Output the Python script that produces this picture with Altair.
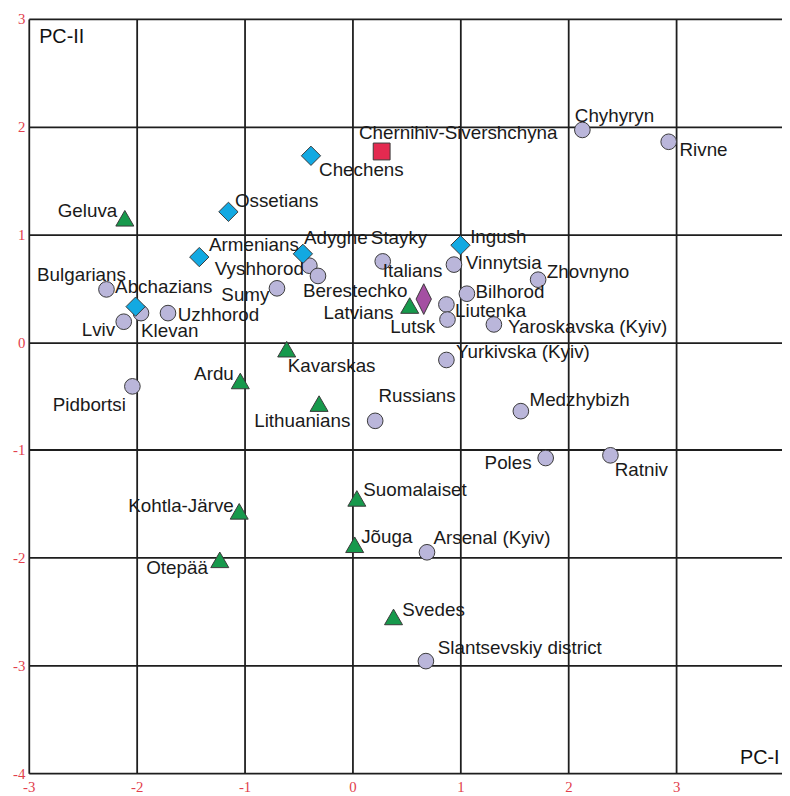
import altair as alt
import pandas as pd

# ---- data ----
names = [
    "Chyhyryn", "Rivne", "Stayky", "Vinnytsia", "Zhovnyno", "Bilhorod", "Liutenka",
    "Lutsk", "Yaroskavska (Kyiv)", "Yurkivska (Kyiv)", "Medzhybizh", "Poles", "Ratniv",
    "Arsenal (Kyiv)", "Slantsevskiy district", "Russians", "Pidbortsi", "Vyshhorod",
    "Berestechko", "Sumy", "Bulgarians", "Klevan", "Uzhhorod", "Lviv",
    "Chechens", "Ossetians", "Armenians", "Adyghe", "Abchazians", "Ingush",
    "Geluva", "Latvians", "Kavarskas", "Ardu", "Lithuanians", "Kohtla-Järve",
    "Otepää", "Suomalaiset", "Jõuga", "Svedes",
    "Chernihiv-Sivershchyna", "Italians",
]
pc1 = [
    2.13, 2.93, 0.28, 0.94, 1.72, 1.06, 0.87,
    0.88, 1.31, 0.87, 1.56, 1.79, 2.39,
    0.69, 0.68, 0.21, -2.04, -0.40,
    -0.32, -0.70, -2.28, -1.96, -1.71, -2.12,
    -0.385, -1.15, -1.42, -0.46, -2.01, 1.00,
    -2.11, 0.53, -0.61, -1.04, -0.31, -1.05,
    -1.23, 0.04, 0.02, 0.38,
    0.27, 0.66,
]
pc2 = [
    1.97, 1.86, 0.75, 0.72, 0.58, 0.45, 0.35,
    0.21, 0.165, -0.165, -0.64, -1.075, -1.05,
    -1.95, -2.96, -0.73, -0.41, 0.71,
    0.615, 0.50, 0.49, 0.27, 0.27, 0.19,
    1.73, 1.21, 0.79, 0.82, 0.33, 0.90,
    1.15, 0.34, -0.065, -0.36, -0.57, -1.57,
    -2.02, -1.45, -1.88, -2.55,
    1.77, 0.40,
]
groups = (["Ukrainian"] * 24 + ["Caucasus"] * 6 + ["Baltic"] * 10
          + ["Chernihiv"] + ["Italian"])

# label anchors (data units) and alignment
lab_x = [
    2.06, 3.03, 0.17, 1.05, 1.80, 1.14, 0.95,
    0.35, 1.44, 0.96, 1.64, 1.66, 2.43,
    0.75, 0.79, 0.24, -2.10, -0.45,
    -0.46, -0.77, -2.10, -1.96, -1.62, -2.20,
    -0.31, -1.09, -1.33, -0.45, -2.20, 1.09,
    -2.18, 0.38, -0.60, -1.10, -0.02, -1.10,
    -1.34, 0.10, 0.08, 0.46,
    0.06, 0.28,
]
lab_y = [
    2.10, 1.78, 0.97, 0.73, 0.65, 0.465, 0.285,
    0.14, 0.14, -0.09, -0.54, -1.12, -1.19,
    -1.82, -2.84, -0.50, -0.58, 0.68,
    0.47, 0.44, 0.62, 0.105, 0.255, 0.11,
    1.60, 1.31, 0.90, 0.97, 0.51, 0.98,
    1.22, 0.27, -0.22, -0.30, -0.73, -1.52,
    -2.10, -1.37, -1.81, -2.49,
    1.94, 0.66,
]
lab_align = [
    "left", "left", "left", "left", "left", "left", "left",
    "left", "left", "left", "left", "right", "left",
    "left", "left", "left", "right", "right",
    "left", "right", "right", "left", "left", "right",
    "left", "left", "left", "left", "left", "left",
    "right", "right", "left", "right", "right", "right",
    "right", "left", "left", "left",
    "left", "left",
]

group_order = ["Ukrainian", "Caucasus", "Baltic", "Chernihiv", "Italian"]
group_fill = ["#bab6da", "#12a9e2", "#17994c", "#e42a50", "#a44fa2"]
group_shape = ["circle", "diamond", "triangle-up", "square", "M0,-1L0.5,0L0,1L-0.5,0Z"]
group_size = [250, 380, 330, 290, 960]

x_ticks = [-3, -2, -1, 0, 1, 2, 3]
y_ticks = [-4, -3, -2, -1, 0, 1, 2, 3]

df = pd.DataFrame({
    "name": names, "pc1": pc1, "pc2": pc2, "group": groups,
    "lx": lab_x, "ly": lab_y, "align": lab_align,
})
df["msize"] = df["group"].map(dict(zip(group_order, group_size)))
df["gorder"] = df["group"].map({g: i for i, g in enumerate(group_order)})

label_expr = "datum.value < 0 ? '-' + abs(datum.value) : '' + datum.value"

x_scale = alt.Scale(domain=[-3, 3.98], nice=False, zero=False)
y_scale = alt.Scale(domain=[-4, 3], nice=False, zero=False)

x_axis = alt.Axis(
    values=x_ticks, grid=True, gridColor="#1e1e1e", gridWidth=1.8, gridOpacity=1,
    domain=False, ticks=False, tickSize=0, labelPadding=7, labelBaseline="top",
    labelFlush=False, labelColor="#e2404c", labelFont="Liberation Serif",
    labelFontSize=15, labelExpr=label_expr,
    title="PC-I", titleFont="Liberation Sans", titleFontSize=20,
    titleFontWeight="normal", titleColor="#111111", titleAlign="left",
    titleBaseline="middle", titleX=718, titleY=-16, titleAngle=0,
)
y_axis = alt.Axis(
    values=y_ticks, grid=True, gridColor="#1e1e1e", gridWidth=1.8, gridOpacity=1,
    domain=False, ticks=False, tickSize=0, labelPadding=4,
    labelFlush=False, labelColor="#e2404c", labelFont="Liberation Serif",
    labelFontSize=15, labelExpr=label_expr,
    title="PC-II", titleFont="Liberation Sans", titleFontSize=20,
    titleFontWeight="normal", titleColor="#111111", titleAlign="left",
    titleBaseline="middle", titleX=10, titleY=18, titleAngle=0,
)

base = alt.Chart(df)

points = base.mark_point(filled=True, stroke="#3a3a3a", strokeWidth=1, opacity=1).encode(
    x=alt.X("pc1:Q", scale=x_scale, axis=x_axis),
    y=alt.Y("pc2:Q", scale=y_scale, axis=y_axis),
    shape=alt.Shape("group:N", scale=alt.Scale(domain=group_order, range=group_shape), legend=None),
    fill=alt.Fill("group:N", scale=alt.Scale(domain=group_order, range=group_fill), legend=None),
    size=alt.Size("msize:Q", scale=None, legend=None),
    order=alt.Order("gorder:Q"),
)

def labels(align):
    return base.transform_filter(alt.datum.align == align).mark_text(
        align=align, baseline="middle", font="Liberation Sans", fontSize=19,
        color="#1a1a1a",
    ).encode(
        x=alt.X("lx:Q", scale=x_scale),
        y=alt.Y("ly:Q", scale=y_scale),
        text="name:N",
    )

chart = alt.layer(points, labels("left"), labels("right")).properties(
    width=761, height=762,
    autosize=alt.AutoSizeParams(type="none"),
    padding={"left": 21, "top": 7, "right": 0, "bottom": 19},
    background="white",
).configure_view(strokeWidth=0)

chart.save("out.html", embed_options={"renderer": "svg", "actions": False})
